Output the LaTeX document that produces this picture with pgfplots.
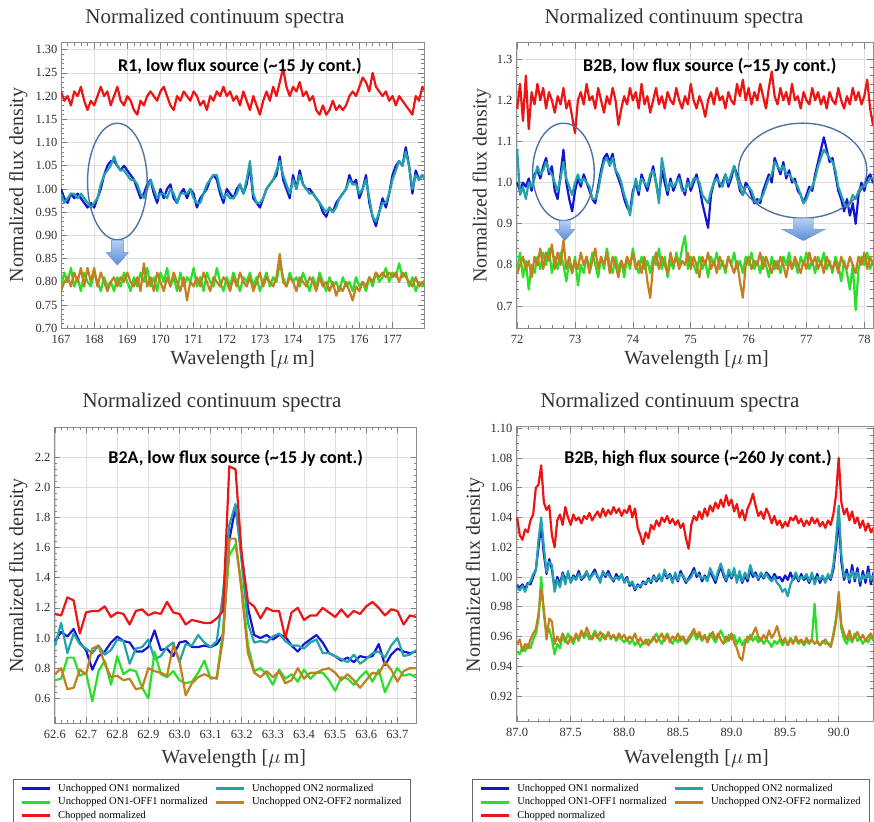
\documentclass[border=0pt]{standalone}
\usepackage{pgfplots}
\pgfplotsset{compat=1.18}
\usepackage{pgfplotstable}
\usepackage{fontspec}
\setmainfont{Liberation Serif}
\newfontfamily\annofont{Carlito}
\definecolor{cOnA}{HTML}{1414D2}
\definecolor{cOnB}{HTML}{22A3AC}
\definecolor{cOffA}{HTML}{2ADF2A}
\definecolor{cOffB}{HTML}{C2801E}
\definecolor{cChop}{HTML}{EE1414}
\definecolor{ellc}{HTML}{4F73A8}
\definecolor{arrT}{HTML}{B8D0F2}
\definecolor{arrB}{HTML}{5A8CD6}

% columns: x  ON1  ON2  ON1-OFF1  ON2-OFF2  chopped
\pgfplotstableread{
x b c g o r
167.0 1.00 0.99 0.79 0.78 1.21
167.1 0.98 0.97 0.82 0.80 1.19
167.2 0.97 0.98 0.80 0.81 1.20
167.3 0.99 0.99 0.83 0.79 1.18
167.4 0.98 0.99 0.79 0.82 1.21
167.5 0.99 0.98 0.81 0.80 1.20
167.6 0.98 0.99 0.78 0.83 1.22
167.7 0.97 0.98 0.82 0.79 1.19
167.8 0.96 0.97 0.80 0.83 1.17
167.9 0.97 0.96 0.79 0.80 1.19
168.0 0.96 0.97 0.82 0.83 1.18
168.1 0.98 0.98 0.80 0.79 1.20
168.2 1.00 1.01 0.78 0.82 1.22
168.3 1.03 1.03 0.81 0.80 1.20
168.4 1.05 1.04 0.79 0.78 1.21
168.5 1.06 1.05 0.80 0.80 1.18
168.6 1.06 1.07 0.78 0.81 1.20
168.7 1.05 1.05 0.81 0.79 1.22
168.8 1.04 1.04 0.79 0.81 1.19
168.9 1.05 1.04 0.82 0.80 1.18
169.0 1.04 1.03 0.80 0.82 1.20
169.1 1.03 1.02 0.78 0.80 1.19
169.2 1.02 1.02 0.81 0.79 1.17
169.3 1.00 1.01 0.79 0.81 1.16
169.4 0.98 0.99 0.82 0.78 1.19
169.5 0.99 0.98 0.80 0.84 1.18
169.6 1.01 1.00 0.83 0.79 1.20
169.7 1.02 1.02 0.79 0.81 1.21
169.8 0.99 1.00 0.81 0.78 1.20
169.9 0.97 0.98 0.78 0.82 1.19
170.0 1.00 0.99 0.82 0.80 1.21
170.1 0.98 0.99 0.80 0.78 1.22
170.2 1.00 0.98 0.83 0.81 1.20
170.3 1.01 1.00 0.79 0.79 1.18
170.4 0.98 0.99 0.81 0.82 1.17
170.5 0.97 0.97 0.78 0.80 1.20
170.6 0.99 0.99 0.82 0.78 1.19
170.7 1.00 0.99 0.79 0.81 1.21
170.8 0.98 0.99 0.81 0.76 1.20
170.9 1.00 1.00 0.80 0.80 1.19
171.0 0.99 0.98 0.83 0.79 1.21
171.1 0.96 0.97 0.79 0.81 1.20
171.2 0.98 0.97 0.81 0.79 1.18
171.3 0.99 0.99 0.78 0.82 1.19
171.4 1.00 1.01 0.82 0.80 1.17
171.5 1.02 1.02 0.80 0.78 1.20
171.6 1.03 1.03 0.79 0.81 1.19
171.7 1.02 1.03 0.83 0.80 1.21
171.8 0.99 1.00 0.80 0.79 1.20
171.9 0.97 0.98 0.78 0.81 1.22
172.0 1.00 0.99 0.81 0.80 1.20
172.1 0.99 0.98 0.79 0.78 1.21
172.2 0.98 0.98 0.82 0.81 1.19
172.3 1.00 0.99 0.80 0.79 1.20
172.4 1.01 1.01 0.78 0.82 1.18
172.5 0.99 0.99 0.81 0.80 1.21
172.6 1.01 1.02 0.80 0.79 1.19
172.7 1.05 1.06 0.82 0.81 1.17
172.8 0.98 0.99 0.79 0.78 1.20
172.9 0.97 0.97 0.81 0.80 1.18
173.0 0.96 0.97 0.78 0.82 1.16
173.1 0.98 0.98 0.80 0.79 1.19
173.2 1.00 1.00 0.82 0.81 1.21
173.3 1.01 1.01 0.79 0.80 1.19
173.4 1.02 1.02 0.81 0.79 1.22
173.5 1.03 1.04 0.80 0.81 1.20
173.6 1.07 1.06 0.84 0.86 1.23
173.7 1.02 1.03 0.81 0.80 1.26
173.8 1.00 1.01 0.79 0.79 1.22
173.9 0.98 0.99 0.82 0.81 1.20
174.0 1.03 1.02 0.80 0.80 1.22
174.1 1.00 1.00 0.81 0.78 1.21
174.2 1.04 1.03 0.79 0.81 1.23
174.3 1.01 1.01 0.82 0.80 1.20
174.4 1.00 1.00 0.80 0.79 1.21
174.5 1.00 0.99 0.78 0.81 1.19
174.6 0.99 0.99 0.81 0.80 1.20
174.7 0.98 0.98 0.79 0.78 1.17
174.8 0.97 0.97 0.82 0.81 1.16
174.9 0.95 0.96 0.80 0.79 1.18
175.0 0.94 0.95 0.78 0.80 1.16
175.1 0.96 0.96 0.81 0.78 1.17
175.2 0.95 0.95 0.79 0.80 1.19
175.3 0.97 0.96 0.80 0.77 1.17
175.4 0.98 0.98 0.78 0.79 1.18
175.5 0.99 0.99 0.81 0.78 1.17
175.6 1.00 1.00 0.79 0.80 1.18
175.7 1.03 1.02 0.80 0.78 1.20
175.8 1.01 1.01 0.78 0.76 1.21
175.9 1.02 1.01 0.81 0.79 1.20
176.0 0.98 0.99 0.79 0.78 1.22
176.1 1.00 1.00 0.80 0.80 1.24
176.2 1.03 1.02 0.78 0.79 1.23
176.3 0.97 0.98 0.81 0.81 1.21
176.4 0.94 0.94 0.79 0.80 1.25
176.5 0.92 0.93 0.82 0.82 1.22
176.6 0.95 0.95 0.80 0.81 1.21
176.7 0.98 0.97 0.81 0.82 1.20
176.8 0.96 0.97 0.83 0.81 1.21
176.9 0.99 0.99 0.80 0.82 1.19
177.0 1.03 1.02 0.82 0.81 1.20
177.1 1.05 1.04 0.81 0.82 1.18
177.2 1.06 1.06 0.84 0.80 1.20
177.3 1.05 1.05 0.81 0.82 1.19
177.4 1.09 1.08 0.82 0.81 1.18
177.5 1.05 1.05 0.79 0.80 1.17
177.6 0.99 1.00 0.81 0.79 1.16
177.7 1.04 1.03 0.78 0.81 1.20
177.8 1.02 1.02 0.80 0.79 1.19
177.9 1.03 1.03 0.79 0.80 1.22
178.0 1.02 1.02 0.81 0.79 1.21
}\tabA

\pgfplotstableread{
x b c g o r
72.00 1.00 1.08 0.79 0.78 1.18
72.05 0.98 0.97 0.83 0.80 1.24
72.10 1.00 0.99 0.77 0.82 1.15
72.15 0.99 0.96 0.81 0.79 1.26
72.20 1.01 1.00 0.74 0.81 1.13
72.25 0.98 0.99 0.80 0.77 1.22
72.30 1.02 1.01 0.78 0.82 1.19
72.35 1.03 1.04 0.82 0.80 1.24
72.40 1.01 1.02 0.79 0.84 1.20
72.45 1.04 1.03 0.83 0.79 1.23
72.50 1.06 1.05 0.80 0.83 1.18
72.55 1.02 1.03 0.84 0.81 1.22
72.60 1.04 1.02 0.78 0.85 1.20
72.65 0.98 1.00 0.82 0.79 1.17
72.70 0.96 0.98 0.79 0.83 1.21
72.75 1.02 1.01 0.83 0.80 1.19
72.80 1.08 1.05 0.80 0.86 1.23
72.85 1.00 1.01 0.76 0.79 1.18
72.90 0.96 0.99 0.81 0.82 1.20
72.95 0.93 0.97 0.78 0.78 1.16
73.00 0.98 1.00 0.82 0.81 1.12
73.05 1.01 1.02 0.75 0.79 1.20
73.10 0.99 1.00 0.80 0.83 1.22
73.15 1.02 1.01 0.78 0.80 1.19
73.20 1.00 1.00 0.82 0.82 1.24
73.25 0.98 0.99 0.79 0.78 1.20
73.30 0.96 0.96 0.83 0.81 1.21
73.35 0.95 0.96 0.80 0.84 1.18
73.40 0.99 0.98 0.77 0.79 1.23
73.45 1.03 1.02 0.82 0.82 1.20
73.50 1.06 1.05 0.79 0.80 1.17
73.55 1.07 1.06 0.84 0.83 1.21
73.60 1.05 1.04 0.80 0.78 1.19
73.65 1.07 1.06 0.78 0.82 1.23
73.70 1.03 1.03 0.82 0.80 1.20
73.75 1.01 1.02 0.79 0.77 1.14
73.80 0.99 1.00 0.81 0.81 1.18
73.85 0.96 0.97 0.77 0.79 1.21
73.90 0.94 0.95 0.82 0.82 1.19
73.95 0.93 0.92 0.79 0.80 1.23
74.00 0.98 0.97 0.84 0.83 1.20
74.05 1.00 1.01 0.80 0.79 1.22
74.10 0.97 0.98 0.78 0.81 1.18
74.15 1.02 1.01 0.82 0.78 1.24
74.20 1.00 1.00 0.79 0.82 1.19
74.25 0.98 0.99 0.81 0.76 1.21
74.30 1.01 1.02 0.78 0.72 1.17
74.35 1.04 1.03 0.82 0.80 1.20
74.40 1.00 1.00 0.80 0.83 1.23
74.45 0.96 0.95 0.84 0.79 1.19
74.50 1.03 1.06 0.79 0.82 1.21
74.55 1.00 1.02 0.82 0.80 1.18
74.60 0.97 0.98 0.77 0.78 1.22
74.65 1.01 1.00 0.81 0.83 1.20
74.70 0.98 0.99 0.79 0.80 1.19
74.75 1.00 1.00 0.83 0.82 1.23
74.80 1.02 1.01 0.80 0.79 1.20
74.85 0.99 0.98 0.84 0.81 1.18
74.90 0.97 0.98 0.87 0.80 1.21
74.95 1.01 1.00 0.79 0.83 1.19
75.00 0.98 0.99 0.82 0.79 1.24
75.05 1.00 1.01 0.80 0.82 1.20
75.10 1.02 1.01 0.78 0.80 1.18
75.15 0.99 1.00 0.82 0.77 1.21
75.20 0.95 0.97 0.79 0.82 1.19
75.25 0.92 0.96 0.81 0.80 1.16
75.30 0.89 0.95 0.77 0.83 1.20
75.35 0.97 0.98 0.82 0.79 1.22
75.40 1.00 1.00 0.80 0.81 1.19
75.45 1.02 1.01 0.83 0.78 1.23
75.50 0.99 1.00 0.79 0.82 1.20
75.55 1.00 0.99 0.81 0.80 1.21
75.60 1.02 1.02 0.78 0.79 1.18
75.65 0.99 1.00 0.82 0.82 1.22
75.70 1.01 1.02 0.80 0.80 1.20
75.75 1.04 1.04 0.83 0.78 1.19
75.80 1.02 1.01 0.79 0.81 1.24
75.85 0.98 0.99 0.81 0.76 1.21
75.90 0.97 0.97 0.78 0.72 1.25
75.95 1.00 0.99 0.82 0.80 1.20
76.00 0.99 0.99 0.80 0.82 1.23
76.05 0.97 0.98 0.83 0.79 1.19
76.10 0.95 0.96 0.79 0.81 1.22
76.15 0.96 0.95 0.81 0.80 1.20
76.20 0.95 0.96 0.78 0.83 1.24
76.25 0.98 0.97 0.82 0.79 1.21
76.30 1.00 0.99 0.80 0.82 1.18
76.35 1.02 1.01 0.77 0.80 1.23
76.40 1.00 1.02 0.82 0.78 1.27
76.45 1.06 1.05 0.79 0.81 1.21
76.50 1.04 1.04 0.81 0.79 1.19
76.55 1.02 1.03 0.78 0.82 1.23
76.60 1.05 1.04 0.82 0.80 1.20
76.65 1.01 1.02 0.80 0.77 1.22
76.70 1.03 1.02 0.83 0.81 1.19
76.75 1.00 1.01 0.79 0.79 1.24
76.80 1.01 1.00 0.81 0.82 1.20
76.85 0.98 0.99 0.78 0.80 1.21
76.90 0.97 0.97 0.82 0.78 1.18
76.95 0.95 0.95 0.80 0.81 1.22
77.00 0.97 0.96 0.83 0.79 1.20
77.05 0.99 0.98 0.79 0.83 1.19
77.10 0.98 0.99 0.81 0.80 1.23
77.15 1.02 1.01 0.78 0.82 1.20
77.20 1.05 1.04 0.82 0.79 1.22
77.25 1.08 1.06 0.80 0.81 1.19
77.30 1.11 1.08 0.83 0.78 1.21
77.35 1.08 1.07 0.79 0.82 1.18
77.40 1.05 1.06 0.81 0.80 1.22
77.45 1.06 1.05 0.78 0.79 1.20
77.50 1.02 1.03 0.82 0.81 1.19
77.55 0.98 0.99 0.80 0.78 1.23
77.60 0.96 0.97 0.76 0.82 1.20
77.65 0.93 0.95 0.81 0.80 1.18
77.70 0.96 0.94 0.78 0.79 1.21
77.75 0.92 0.95 0.74 0.82 1.19
77.80 0.95 0.97 0.80 0.80 1.23
77.85 0.90 0.96 0.69 0.78 1.20
77.90 0.97 0.98 0.79 0.82 1.22
77.95 1.00 0.99 0.82 0.80 1.19
78.00 0.98 0.99 0.80 0.83 1.21
78.05 1.01 1.00 0.83 0.79 1.25
78.10 1.02 1.01 0.79 0.82 1.18
78.15 1.00 1.01 0.81 0.80 1.14
78.20 1.01 1.02 0.80 0.81 1.15
}\tabB

\pgfplotstableread{
x b c g o r
62.60 0.98 0.95 0.72 0.76 1.16
62.62 1.04 1.10 0.73 0.80 1.15
62.64 1.01 0.90 0.87 0.66 1.27
62.66 1.06 1.03 0.87 0.67 1.25
62.68 0.97 0.96 0.75 0.79 1.03
62.70 0.92 0.93 0.77 0.76 1.17
62.72 0.79 0.90 0.58 0.93 1.18
62.74 0.88 0.95 0.78 0.95 1.18
62.76 0.91 0.89 0.85 0.83 1.21
62.78 0.97 0.92 0.69 0.74 1.14
62.80 1.01 0.99 0.88 0.75 1.17
62.82 0.98 0.98 0.76 0.72 1.16
62.84 0.97 0.83 0.79 0.73 1.09
62.86 0.91 0.93 0.78 0.66 1.18
62.88 0.91 0.94 0.67 0.67 1.19
62.90 0.94 0.99 0.60 0.80 1.15
62.92 1.05 0.86 0.91 0.78 1.17
62.94 0.92 0.88 0.76 0.77 1.16
62.96 0.93 0.94 0.74 0.75 1.24
62.98 0.88 0.97 0.78 0.95 1.17
63.00 0.97 0.84 0.72 0.85 1.16
63.02 0.98 0.96 0.70 0.62 1.09
63.04 0.94 0.95 0.71 0.70 1.12
63.06 0.94 1.02 0.77 0.74 1.11
63.08 0.95 0.97 0.85 0.76 1.10
63.10 0.94 0.94 0.73 0.74 1.10
63.12 0.96 0.98 0.74 0.73 1.13
63.14 1.02 1.30 1.05 1.00 1.18
63.16 1.65 1.75 1.55 1.66 2.14
63.18 1.87 1.89 1.62 1.66 2.12
63.20 1.55 1.50 1.35 1.30 1.55
63.22 1.20 1.10 0.95 0.90 1.24
63.24 1.02 0.97 0.78 0.77 1.21
63.26 1.00 0.98 0.80 0.74 1.13
63.28 1.02 0.97 0.76 0.78 1.20
63.30 0.99 1.01 0.69 0.74 1.18
63.32 1.02 1.03 0.79 0.78 1.18
63.34 1.01 0.98 0.73 0.70 1.00
63.36 0.95 0.95 0.76 0.72 1.17
63.38 0.91 0.95 0.71 0.80 1.20
63.40 0.96 0.93 0.79 0.73 1.12
63.42 0.99 0.97 0.73 0.77 1.15
63.44 1.02 0.99 0.77 0.77 1.15
63.46 0.97 0.90 0.77 0.79 1.20
63.48 0.90 0.90 0.72 0.80 1.17
63.50 0.88 0.88 0.65 0.77 1.14
63.52 0.85 0.86 0.74 0.72 1.19
63.54 0.87 0.84 0.73 0.76 1.14
63.56 0.84 0.89 0.69 0.72 1.18
63.58 0.88 0.83 0.74 0.67 1.16
63.60 0.87 0.86 0.78 0.72 1.21
63.62 0.88 0.90 0.71 0.77 1.24
63.64 0.96 0.91 0.79 0.76 1.20
63.66 0.82 0.87 0.64 0.84 1.15
63.68 0.89 0.95 0.73 0.79 1.19
63.70 0.93 1.00 0.80 0.71 1.18
63.72 0.91 0.88 0.75 0.78 1.09
63.74 0.90 0.89 0.76 0.80 1.15
63.76 0.91 0.92 0.74 0.80 1.14
}\tabC

\pgfplotstableread{
x b c g o r
87.000 0.994 0.993 0.950 0.955 1.040
87.025 0.993 0.991 0.948 0.958 1.028
87.050 0.995 0.994 0.953 0.950 1.025
87.075 0.992 0.990 0.950 0.955 1.032
87.100 0.996 0.995 0.955 0.952 1.030
87.125 0.995 0.997 0.952 0.958 1.038
87.150 1.000 1.002 0.958 0.962 1.042
87.175 1.005 1.004 0.962 0.965 1.060
87.200 1.020 1.025 0.972 0.975 1.062
87.225 1.035 1.040 1.000 0.992 1.075
87.250 1.015 1.020 0.975 0.978 1.050
87.275 1.002 1.003 0.962 0.958 1.045
87.300 1.012 1.010 0.965 0.972 1.048
87.325 1.005 1.008 0.958 0.970 1.028
87.350 0.992 0.990 0.948 0.955 1.020
87.375 1.000 0.998 0.955 0.960 1.038
87.400 0.995 0.993 0.952 0.956 1.042
87.425 1.003 1.002 0.960 0.962 1.035
87.450 0.998 0.995 0.956 0.958 1.047
87.475 1.002 1.004 0.962 0.955 1.040
87.500 0.997 0.996 0.958 0.960 1.035
87.525 1.001 1.000 0.955 0.957 1.042
87.550 0.999 0.998 0.961 0.962 1.038
87.575 1.004 1.002 0.957 0.958 1.040
87.600 0.998 0.999 0.963 0.964 1.036
87.625 1.000 1.001 0.959 0.960 1.041
87.650 1.003 1.004 0.962 0.966 1.039
87.675 0.999 0.998 0.958 0.961 1.043
87.700 1.002 1.001 0.960 0.958 1.038
87.725 1.005 1.003 0.964 0.962 1.041
87.750 1.000 1.001 0.960 0.959 1.044
87.775 0.998 0.996 0.957 0.963 1.040
87.800 1.003 1.004 0.962 0.960 1.046
87.825 1.000 1.001 0.959 0.958 1.041
87.850 1.004 1.002 0.962 0.963 1.045
87.875 1.000 0.999 0.958 0.959 1.042
87.900 0.997 0.998 0.961 0.961 1.047
87.925 1.002 1.000 0.957 0.958 1.043
87.950 0.999 0.998 0.960 0.962 1.046
87.975 1.001 1.002 0.958 0.959 1.041
88.000 0.997 0.996 0.956 0.961 1.045
88.025 1.000 0.999 0.959 0.957 1.043
88.050 0.994 0.995 0.955 0.960 1.048
88.075 0.996 0.997 0.958 0.958 1.040
88.100 0.991 0.992 0.954 0.962 1.046
88.125 0.995 0.994 0.957 0.956 1.033
88.150 0.993 0.994 0.953 0.959 1.028
88.175 0.997 0.996 0.956 0.955 1.022
88.200 0.995 0.996 0.955 0.958 1.030
88.225 0.999 0.998 0.958 0.954 1.026
88.250 0.996 0.997 0.956 0.957 1.035
88.275 1.001 1.000 0.959 0.960 1.032
88.300 0.997 0.998 0.962 0.956 1.038
88.325 1.000 1.002 0.958 0.959 1.034
88.350 0.998 0.997 0.955 0.962 1.040
88.375 1.003 1.005 0.959 0.957 1.037
88.400 0.999 1.000 0.962 0.961 1.041
88.425 1.002 1.001 0.958 0.956 1.036
88.450 0.998 0.996 0.955 0.960 1.039
88.475 1.001 1.003 0.959 0.958 1.035
88.500 0.997 0.998 0.956 0.962 1.038
88.525 1.004 1.002 0.960 0.957 1.033
88.550 1.000 1.001 0.958 0.960 1.036
88.575 0.996 0.997 0.955 0.956 1.026
88.600 0.999 0.998 0.957 0.959 1.019
88.625 1.002 1.000 0.960 0.962 1.035
88.650 1.006 1.004 0.963 0.965 1.041
88.675 1.000 1.002 0.958 0.960 1.038
88.700 1.003 1.001 0.961 0.963 1.044
88.725 0.997 0.999 0.957 0.958 1.039
88.750 1.001 1.000 0.960 0.961 1.046
88.775 0.998 0.997 0.958 0.956 1.041
88.800 1.004 1.006 0.962 0.960 1.048
88.825 1.000 1.002 0.959 0.963 1.044
88.850 0.996 0.998 0.956 0.958 1.050
88.875 1.002 1.004 0.960 0.962 1.046
88.900 1.007 1.009 0.964 0.958 1.052
88.925 1.001 1.003 0.960 0.955 1.047
88.950 0.997 0.998 0.956 0.960 1.055
88.975 1.003 1.005 0.961 0.957 1.048
89.000 0.999 1.000 0.958 0.962 1.052
89.025 1.004 1.006 0.961 0.956 1.044
89.050 0.998 0.996 0.955 0.952 1.049
89.075 1.002 1.004 0.959 0.946 1.040
89.100 0.996 0.997 0.954 0.944 1.045
89.125 1.001 1.003 0.958 0.955 1.038
89.150 0.997 0.999 0.956 0.960 1.046
89.175 1.005 1.008 0.961 0.958 1.050
89.200 1.000 1.002 0.957 0.962 1.056
89.225 1.003 1.001 0.960 0.966 1.048
89.250 0.998 0.999 0.956 0.960 1.041
89.275 1.002 1.003 0.959 0.957 1.044
89.300 0.999 1.000 0.955 0.961 1.039
89.325 1.003 1.002 0.958 0.958 1.046
89.350 1.001 0.999 0.956 0.964 1.042
89.375 0.998 0.997 0.953 0.959 1.036
89.400 1.002 1.000 0.957 0.962 1.041
89.425 0.999 0.996 0.955 0.967 1.035
89.450 1.000 0.994 0.958 0.960 1.038
89.475 0.997 0.990 0.954 0.956 1.033
89.500 1.001 0.992 0.957 0.959 1.037
89.525 0.998 0.987 0.955 0.954 1.034
89.550 1.003 0.995 0.959 0.958 1.040
89.575 0.998 0.999 0.956 0.955 1.038
89.600 1.001 1.003 0.958 0.960 1.041
89.625 0.997 0.998 0.955 0.956 1.036
89.650 1.002 1.000 0.957 0.958 1.039
89.675 0.998 0.999 0.954 0.955 1.034
89.700 1.000 1.002 0.957 0.959 1.038
89.725 0.996 0.997 0.955 0.956 1.035
89.750 1.001 1.003 0.958 0.958 1.040
89.775 0.997 0.995 0.982 0.955 1.036
89.800 1.002 1.000 0.956 0.957 1.039
89.825 0.996 0.998 0.954 0.954 1.034
89.850 1.000 1.001 0.957 0.956 1.037
89.875 0.997 0.996 0.955 0.958 1.033
89.900 1.001 1.002 0.956 0.955 1.038
89.925 0.998 0.999 0.953 0.953 1.035
89.950 1.005 1.008 0.962 0.960 1.042
89.975 1.020 1.025 0.972 0.970 1.055
90.000 1.040 1.048 0.985 0.990 1.080
90.025 1.010 1.015 0.965 0.968 1.050
90.050 0.998 1.000 0.958 0.962 1.042
90.075 1.005 1.002 0.955 0.958 1.046
90.100 0.996 0.998 0.960 0.964 1.038
90.125 1.008 1.004 0.956 0.957 1.044
90.150 0.997 0.999 0.962 0.960 1.036
90.175 1.006 1.003 0.957 0.963 1.040
90.200 0.994 0.997 0.959 0.958 1.033
90.225 1.004 1.001 0.955 0.961 1.038
90.250 0.996 0.999 0.958 0.957 1.031
90.275 1.007 1.003 0.956 0.960 1.036
90.300 0.995 0.998 0.960 0.962 1.030
90.325 1.003 1.001 0.957 0.958 1.033
}\tabD

\tikzset{
  anno/.style={font=\annofont\bfseries\fontsize{18}{21}\selectfont, text=black, anchor=center},
  arr/.style={top color=arrT, bottom color=arrB, draw=arrB, line width=0.4pt},
  ell/.style={draw=ellc, line width=1.4pt},
}
\pgfplotsset{
  panel/.style={
    scale only axis,
    anchor=south west,
    axis line style={draw=black!45, line width=0.8pt},
    tick style={draw=black!50, line width=0.6pt},
    major tick length=6pt, minor tick length=3pt,
    tick align=inside,
    grid=major,
    major grid style={draw=black!13, line width=0.6pt},
    scaled ticks=false,
    /pgf/number format/assume math mode=true,
    ticklabel style={font=\fontsize{12.5}{14}\selectfont, text=black!82},
    xticklabel style={yshift=-3pt},
    label style={font=\fontsize{20}{24}\selectfont, text=black!80},
    every axis title shift=0pt,
    title style={font=\fontsize{21}{25}\selectfont, text=black!80},
    title={Normalized continuum spectra},
    xlabel={Wavelength [$\mu$\,m]},
    ylabel={Normalized flux density},
    every axis plot/.append style={line width=2.2pt, line join=round},
    legend image code/.code={\draw[#1, line width=3pt] (0pt,0pt) -- (28pt,0pt);},
  },
  leg/.style={legend columns=2, legend cell align=left,
    legend style={at={#1}, anchor=north west, draw=black!60, line width=0.8pt,
      font=\fontsize{10.5}{12}\selectfont, inner xsep=7pt, inner ysep=2pt,
      nodes={inner xsep=1.8pt, inner ysep=2.5pt},
      /tikz/every odd column/.append style={column sep=5pt},
      /tikz/every even column/.append style={column sep=5pt}}},
}

\begin{document}
\begin{tikzpicture}
\useasboundingbox (0,0) rectangle (874pt,821pt);

% ---------- Panel 1: R1 ----------
\begin{axis}[panel, at={(61pt,492.7pt)}, width=363pt, height=285.6pt,
  xmin=167, xmax=177.95, ymin=0.70, ymax=1.315,
  xtick={167,168,169,170,171,172,173,174,175,176,177},
  ytick={0.70,0.75,0.80,0.85,0.90,0.95,1.00,1.05,1.10,1.15,1.20,1.25,1.30},
  yticklabel={\pgfmathprintnumber[fixed,fixed zerofill,precision=2]{\tick}},
  minor x tick num=4, minor y tick num=4,
  title style={at={(axis description cs:0.424,1.0865)}, anchor=center},
  xlabel style={at={(axis description cs:0.5,-0.111)}, anchor=center},
  ylabel style={at={(axis description cs:-0.1176,0.502)}, anchor=center}]
\addplot[cOnA] table[x=x,y=b]{\tabA};
\addplot[cOnB] table[x=x,y=c]{\tabA};
\addplot[cOffA] table[x=x,y=g]{\tabA};
\addplot[cOffB] table[x=x,y=o]{\tabA};
\addplot[cChop] table[x=x,y=r]{\tabA};
\draw[ell] (axis cs:168.70,1.016) ellipse [x radius=29.8pt, y radius=58.3pt];
\path[arr] (axis cs:168.70,0.836) -- ++(-11pt,12.5pt) -- ++(5pt,0pt) -- ++(0pt,12.5pt) -- ++(12pt,0pt) -- ++(0pt,-12.5pt) -- ++(5pt,0pt) -- cycle;
\node[anno] at (axis description cs:0.493,0.916) {R1, low flux source (\textasciitilde15 Jy cont.)};
\end{axis}

% ---------- Panel 2: B2B low ----------
\begin{axis}[panel, at={(516pt,492.7pt)}, width=357pt, height=285.6pt,
  xmin=71.98, xmax=78.15, ymin=0.646, ymax=1.34,
  xtick={72,73,74,75,76,77,78},
  ytick={0.7,0.8,0.9,1.0,1.1,1.2,1.3},
  yticklabel={\pgfmathprintnumber[fixed,fixed zerofill,precision=1]{\tick}},
  minor x tick num=4, minor y tick num=4,
  title style={at={(axis description cs:0.4426,1.0865)}, anchor=center},
  xlabel style={at={(axis description cs:0.506,-0.111)}, anchor=center},
  ylabel style={at={(axis description cs:-0.096,0.499)}, anchor=center}]
\addplot[cOnA] table[x=x,y=b]{\tabB};
\addplot[cOnB] table[x=x,y=c]{\tabB};
\addplot[cOffA] table[x=x,y=g]{\tabB};
\addplot[cOffB] table[x=x,y=o]{\tabB};
\addplot[cChop] table[x=x,y=r]{\tabB};
\draw[ell] (axis cs:72.80,1.026) ellipse [x radius=30.8pt, y radius=48.7pt];
\draw[ell] (axis cs:76.934,1.029) ellipse [x radius=64.2pt, y radius=47.5pt];
\path[arr] (axis cs:72.825,0.859) -- ++(-10pt,11.4pt) -- ++(4.7pt,0pt) -- ++(0pt,8.7pt) -- ++(10.6pt,0pt) -- ++(0pt,-8.7pt) -- ++(4.7pt,0pt) -- cycle;
\path[arr] (axis cs:76.948,0.859) -- ++(-21.6pt,11.4pt) -- ++(11.6pt,0pt) -- ++(0pt,11pt) -- ++(20pt,0pt) -- ++(0pt,-11pt) -- ++(11.6pt,0pt) -- cycle;
\node[anno] at (axis description cs:0.543,0.916) {B2B, low flux source (\textasciitilde15 Jy cont.)};
\end{axis}

% ---------- Panel 3: B2A ----------
\begin{axis}[panel, at={(54pt,97.7pt)}, width=362.7pt, height=296pt,
  xmin=62.597, xmax=63.762, ymin=0.434, ymax=2.399,
  xtick={62.6,62.7,62.8,62.9,63.0,63.1,63.2,63.3,63.4,63.5,63.6,63.7},
  xticklabel={\pgfmathprintnumber[fixed,fixed zerofill,precision=1]{\tick}},
  ytick={0.6,0.8,1.0,1.2,1.4,1.6,1.8,2.0,2.2},
  yticklabel={\pgfmathprintnumber[fixed,fixed zerofill,precision=1]{\tick}},
  minor x tick num=4, minor y tick num=4,
  title style={at={(axis description cs:0.4356,1.0855)}, anchor=center},
  xlabel style={at={(axis description cs:0.496,-0.118)}, anchor=center},
  ylabel style={at={(axis description cs:-0.0984,0.4986)}, anchor=center},
  leg={(axis description cs:-0.113,-0.188)}]
\addplot[cOnA] table[x=x,y=b]{\tabC};
\addplot[cOnB] table[x=x,y=c]{\tabC};
\addplot[cOffA] table[x=x,y=g]{\tabC};
\addplot[cOffB] table[x=x,y=o]{\tabC};
\addplot[cChop] table[x=x,y=r]{\tabC};
\legend{Unchopped ON1 normalized, Unchopped ON2 normalized, Unchopped ON1-OFF1 normalized, Unchopped ON2-OFF2 normalized, Chopped normalized}
\node[anno] at (axis description cs:0.501,0.895) {B2A, low flux source (\textasciitilde15 Jy cont.)};
\end{axis}

% ---------- Panel 4: B2B high ----------
\begin{axis}[panel, at={(516pt,99.3pt)}, width=357pt, height=295pt,
  xmin=86.99, xmax=90.32, ymin=0.9027, ymax=1.101,
  xtick={87.0,87.5,88.0,88.5,89.0,89.5,90.0},
  xticklabel={\pgfmathprintnumber[fixed,fixed zerofill,precision=1]{\tick}},
  ytick={0.92,0.94,0.96,0.98,1.00,1.02,1.04,1.06,1.08,1.10},
  yticklabel={\pgfmathprintnumber[fixed,fixed zerofill,precision=2]{\tick}},
  minor x tick num=4, minor y tick num=3,
  title style={at={(axis description cs:0.4314,1.0837)}, anchor=center},
  xlabel style={at={(axis description cs:0.506,-0.124)}, anchor=center},
  ylabel style={at={(axis description cs:-0.115,0.497)}, anchor=center},
  leg={(axis description cs:-0.123,-0.194)}]
\addplot[cOnA] table[x=x,y=b]{\tabD};
\addplot[cOnB] table[x=x,y=c]{\tabD};
\addplot[cOffA] table[x=x,y=g]{\tabD};
\addplot[cOffB] table[x=x,y=o]{\tabD};
\addplot[cChop] table[x=x,y=r]{\tabD};
\legend{Unchopped ON1 normalized, Unchopped ON2 normalized, Unchopped ON1-OFF1 normalized, Unchopped ON2-OFF2 normalized, Chopped normalized}
\node[anno] at (axis description cs:0.51,0.893) {B2B, high flux source (\textasciitilde260 Jy cont.)};
\end{axis}
\end{tikzpicture}
\end{document}
